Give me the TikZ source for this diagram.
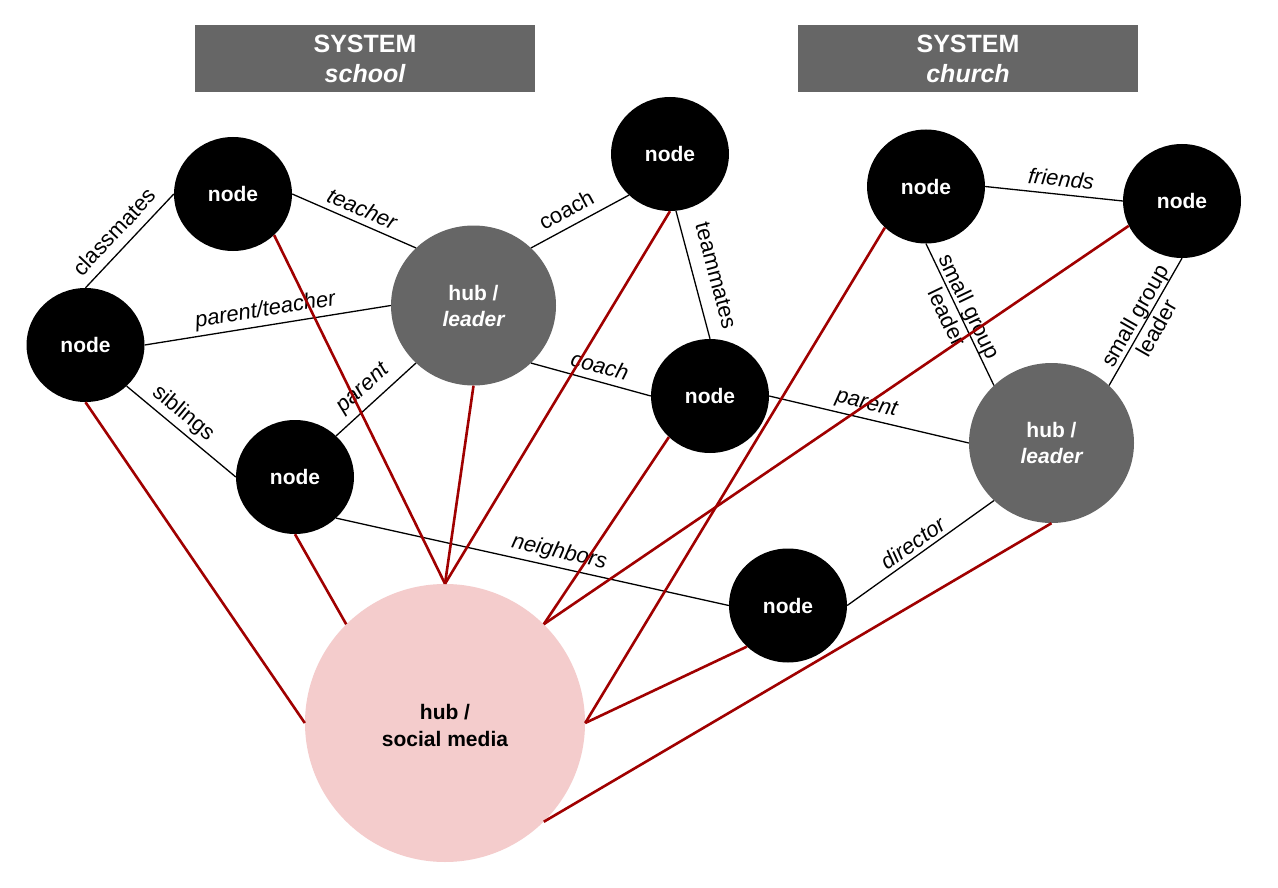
\documentclass[tikz,border=0pt]{standalone}
\usepackage{fontspec}
\setmainfont{Liberation Sans}
\usetikzlibrary{shapes.geometric}
\definecolor{hubgray}{HTML}{666666}
\definecolor{edgered}{HTML}{A00000}
\definecolor{socialpink}{HTML}{F4CCCC}
\begin{document}
\begin{tikzpicture}[x=1pt,y=-1pt,
 blacknode/.style={ellipse, fill=black, minimum width=118pt, minimum height=114pt, inner sep=0pt, text=white, font=\fontsize{21}{25}\selectfont\bfseries},
 hubnode/.style={ellipse, fill=hubgray, minimum width=165pt, minimum height=160pt, inner sep=0pt, text=white, align=center, font=\fontsize{21}{26}\selectfont\bfseries},
 socialnode/.style={ellipse, fill=socialpink, minimum width=280pt, minimum height=278pt, inner sep=0pt, align=center, font=\fontsize{21}{27}\selectfont\bfseries},
 header/.style={rectangle, fill=hubgray, minimum width=340pt, minimum height=67pt, inner sep=0pt, text=white, align=center, font=\fontsize{25}{30}\selectfont\bfseries},
 tie/.style={draw=black, line width=1.3pt},
 media/.style={draw=edgered, line width=2.6pt},
 lab/.style={sloped, above, inner sep=4pt, font=\fontsize{22}{26}\selectfont},
 ilab/.style={sloped, above, inner sep=4pt, font=\fontsize{22}{26}\selectfont\itshape},
 mlab/.style={sloped, inner sep=0pt, align=center, font=\fontsize{22}{25}\selectfont},
]
\useasboundingbox (0,0) rectangle (1278,888);
\fill[white] (0,0) rectangle (1278,888);

% headers
\node[header] (hsch) at (365,58.5) {SYSTEM\\{\itshape school}};
\node[header] (hch) at (968,58.5) {SYSTEM\\{\itshape church}};

% nodes
\node[blacknode] (A) at (233,194) {node};
\node[blacknode] (B) at (85.5,345) {node};
\node[hubnode] (hs) at (473.5,305.5) {hub /\\{\itshape leader}};
\node[blacknode] (top) at (670,154) {node};
\node[blacknode] (C) at (295,477) {node};
\node[blacknode] (tm) at (710,396) {node};
\node[blacknode] (tl) at (926,186.5) {node};
\node[blacknode] (tr) at (1182,201) {node};
\node[hubnode] (hc) at (1051.5,443) {hub /\\{\itshape leader}};
\node[blacknode] (dir) at (788,605.5) {node};
\node[socialnode] (sm) at (445,723) {\raisebox{-10pt}[0pt][0pt]{\begin{tabular}{@{}c@{}}hub /\\[0pt]social media\end{tabular}}};

% black ties
\draw[tie] (B.north) -- node[lab,pos=0.47,inner sep=9pt]{classmates} (A.west);
\draw[tie] (A.east) -- node[ilab,pos=0.52,inner sep=6pt]{teacher} (hs.135);
\draw[tie] (B.east) -- node[ilab,pos=0.5]{parent/teacher} (hs.west);
\draw[tie] (B.-45) -- node[lab,pos=0.43]{siblings} (C.west);
\draw[tie] (C.45) -- node[ilab,pos=0.48,inner sep=6pt]{parent} (hs.225);
\draw[tie] (hs.45) -- node[lab,pos=0.44,inner sep=8pt]{coach} (top.225);
\draw[tie] (top.-84) -- node[lab,pos=0.55,inner sep=14pt]{teammates} (tm.north);
\draw[tie] (hs.-45) -- node[ilab,pos=0.54,inner sep=7pt]{coach} (tm.west);
\draw[tie] (tm.east) -- node[ilab,pos=0.47]{parent} (hc.west);
\draw[tie] (C.-45) -- node[ilab,pos=0.56]{neighbors} (dir.west);
\draw[tie] (dir.east) -- node[ilab,pos=0.5]{director} (hc.225);
\draw[tie] (tl.east) -- node[ilab,pos=0.54,inner sep=7pt]{friends} (tr.west);
\draw[tie] (tl.south) -- node[mlab,pos=0.48]{small group\\leader} (hc.135);
\draw[tie] (hc.45) -- node[mlab,pos=0.5]{small group\\leader} (tr.south);

% red media links
\draw[media] (B.south) -- (sm.west);
\draw[media] (A.-45) -- (sm.north);
\draw[media] (C.south) -- (sm.135);
\draw[media] (hs.south) -- (sm.north);
\draw[media] (top.south) -- (sm.north);
\draw[media] (tm.225) -- (sm.45);
\draw[media] (tl.225) -- (sm.east);
\draw[media] (tr.205) -- (sm.45);
\draw[media] (dir.225) -- (sm.east);
\draw[media] (hc.south) -- (sm.-45);
\end{tikzpicture}
\end{document}
